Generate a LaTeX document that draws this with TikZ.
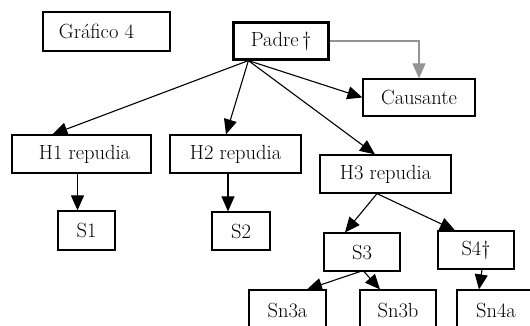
\documentclass[tikz,border=0pt]{standalone}
\usetikzlibrary{arrows.meta,calc}
\begin{document}
\begin{tikzpicture}[x=1pt,y=-1pt,
  box/.style={draw,line width=1.2pt,inner sep=0pt,font=\fontsize{20.5}{22}\selectfont},
  arr/.style={line width=1.1pt,-{Triangle[length=15pt,width=13pt]}},
  garr/.style={line width=1.1pt,draw=black!42,-{Triangle[length=15pt,width=13pt,fill=black!42]}}]
\useasboundingbox (0,0) rectangle (530,326);
\clip (0,0) rectangle (530,326);
\node[box,minimum width=127,minimum height=39] (g4) at (106.5,31.5) {\hspace*{-20pt}Gráfico 4};
\node[box,line width=2.2pt,minimum width=95,minimum height=37] (padre) at (281,41) {Padre\,\textdagger};
\node[box,minimum width=112,minimum height=37] (caus) at (419,97.5) {Causante};
\node[box,minimum width=139,minimum height=38] (h1) at (81.5,154) {\hspace*{6pt}H1 repudia};
\node[box,minimum width=131,minimum height=38] (h2) at (235.5,154) {H2 repudia};
\node[box,minimum width=131,minimum height=38] (h3) at (385.5,174) {H3 repudia};
\node[box,minimum width=57,minimum height=39] (s1) at (86.5,230.5) {S1};
\node[box,minimum width=58,minimum height=38] (s2) at (241,231) {S2};
\node[box,minimum width=76,minimum height=38] (s3) at (362,252) {S3};
\node[box,minimum width=76,minimum height=38] (s4) at (476,250) {S4\textdagger};
\node[box,minimum width=77,minimum height=40] (sn3a) at (287.5,310) {Sn3a};
\node[box,minimum width=76,minimum height=40] (sn3b) at (398,310) {Sn3b};
\node[box,minimum width=78,minimum height=40] (sn4a) at (496,310) {Sn4a};
\coordinate (pb) at ($(padre.south west)+(16,0)$);
\draw[garr] (padre.east) -| (caus.north);
\draw[arr] (pb) -- (caus.west);
\draw[arr] (pb) -- ($(h1.north west)+(41,0)$);
\draw[arr] (pb) -- ($(h2.north)+(-9.5,0)$);
\draw[arr] (pb) -- ($(h3.north)+(-10.5,0)$);
\draw[arr] ($(h1.south)+(-4,0)$) -- ($(s1.north)+(-9,0)$);
\draw[arr] ($(h2.south)+(-7.5,0)$) -- ($(s2.north)+(-13,0)$);
\coordinate (hb) at ($(h3.south)+(-8.5,0)$);
\draw[arr] (hb) -- ($(s3.north)+(-17,0)$);
\draw[arr] (hb) -- ($(s4.north)+(-21,0)$);
\draw[arr] ($(s3.south)+(-2,0)$) -- ($(sn3a.north)+(19.5,0)$);
\draw[arr] ($(s3.south)+(2,0)$) -- ($(sn3b.north)+(-18,0)$);
\draw[arr] ($(s4.south)+(6,0)$) -- ($(sn4a.north)+(-17,0)$);
\end{tikzpicture}
\end{document}
